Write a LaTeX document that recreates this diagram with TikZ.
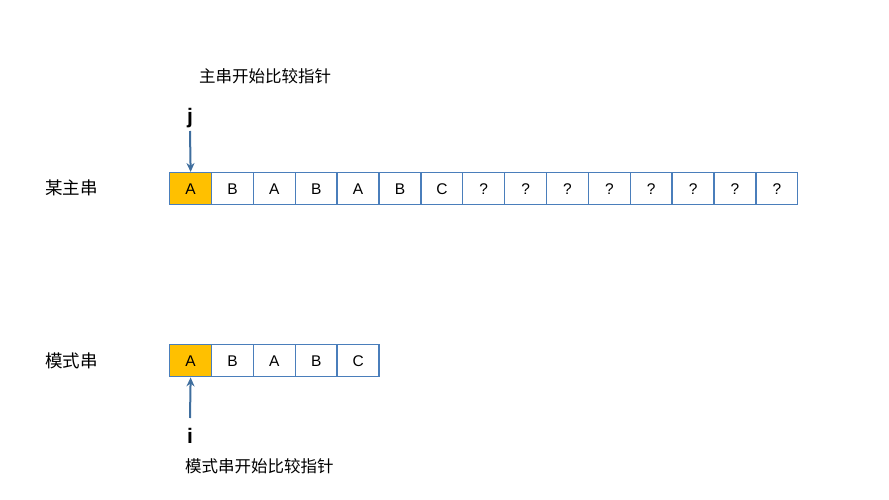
\documentclass[tikz,border=0pt]{standalone}
\usepackage{fontspec}
\setmainfont{Liberation Sans}
\newfontfamily\cjk{Noto Sans CJK SC}
\usetikzlibrary{arrows.meta}
\definecolor{boxblue}{HTML}{4A7EBB}
\definecolor{arrblue}{HTML}{3F6E9E}
\definecolor{gold}{HTML}{FFC000}
\begin{document}
\begin{tikzpicture}[x=1pt,y=-1pt,
  cell/.style={draw=boxblue,line width=1.4pt,minimum width=41.87pt,minimum height=32pt,inner sep=0pt,anchor=north west,font=\fontsize{15.5}{15.5}\selectfont},
  hl/.style={fill=gold},
  lbl/.style={font=\cjk\fontsize{16.5}{16.5}\selectfont,inner sep=0pt},
  big/.style={font=\cjk\fontsize{17.5}{17.5}\selectfont,inner sep=0pt},
  ptr/.style={font=\bfseries\fontsize{21}{21}\selectfont,inner sep=0pt},
  arr/.style={draw=arrblue,line width=2pt,-{Stealth[length=9pt,width=8pt]}}]
\useasboundingbox (0,0) rectangle (889,500);
% main string
\foreach \t [count=\k from 0] in {A,B,A,B,A,B,C,?,?,?,?,?,?,?,?}{
  \ifnum\k=0
    \node[cell,hl] (m\k) at ({169+\k*41.87},172) {\t};
  \else
    \node[cell] (m\k) at ({169+\k*41.87},172) {\t};
  \fi
}
% pattern
\foreach \t [count=\k from 0] in {A,B,A,B,C}{
  \ifnum\k=0
    \node[cell,hl] (p\k) at ({169+\k*41.87},344) {\t};
  \else
    \node[cell] (p\k) at ({169+\k*41.87},344) {\t};
  \fi
}
\node[big,anchor=west] (lm) at (45,188) {某主串};
\node[big,anchor=west] (lp) at (45,361) {模式串};
\node[lbl,anchor=west] (tm) at (199,76) {主串开始比较指针};
\node[lbl,anchor=west] (tp) at (185,466) {模式串开始比较指针};
\node[ptr] (j) at (190,118) {j};
\node[ptr] (i) at (190,436) {i};
\coordinate (js) at (190,131);
\coordinate (is) at (190,418);
\draw[arr] (js) -- (m0.north);
\draw[arr] (is) -- (p0.south);
\end{tikzpicture}
\end{document}
